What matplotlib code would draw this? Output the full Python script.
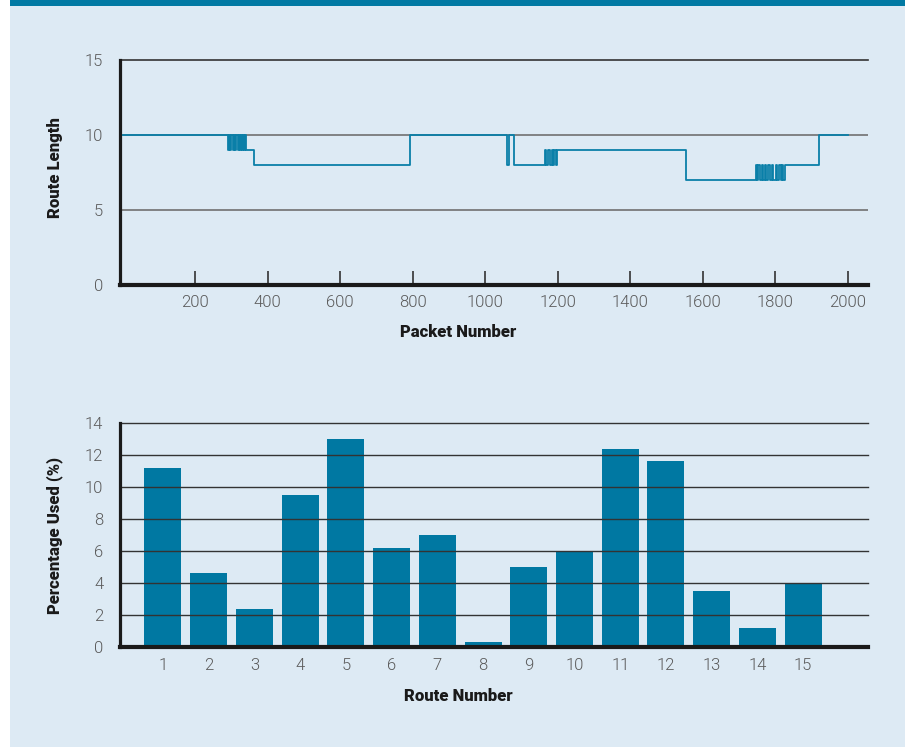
import matplotlib
matplotlib.use("Agg")
import matplotlib.pyplot as plt
from matplotlib.patches import Rectangle

# Route length over packet sequence: packet number at which each route starts, and its length
change_packets = [1,
                  291, 293, 297, 300, 304, 306, 310, 313, 317, 320, 323, 326, 329, 332, 335, 338, 341,
                  362, 793, 1061, 1064, 1080,
                  1165, 1168, 1174, 1177, 1183, 1186, 1190, 1194, 1197,
                  1553,
                  1745, 1748, 1753, 1757, 1762, 1766, 1771, 1775, 1780, 1784, 1789, 1793,
                  1801, 1805, 1810, 1814, 1819, 1822, 1826,
                  1919, 2000]
route_lengths = [10,
                 9, 10, 9, 10, 9, 10, 9, 10, 9, 10, 9, 10, 9, 10, 9, 10, 9,
                 8, 10, 8, 10, 8,
                 9, 8, 9, 8, 9, 8, 9, 8, 9,
                 7,
                 8, 7, 8, 7, 8, 7, 8, 7, 8, 7, 8, 7,
                 8, 7, 8, 7, 8, 7, 8,
                 10, 10]

# Share of packets per route
route_numbers = list(range(1, 16))
percent_used = [11.2, 4.6, 2.4, 9.5, 13.0, 6.2, 7.0, 0.3, 5.0, 6.0, 12.4, 11.6, 3.5, 1.2, 4.0]

top_yticks = [0, 5, 10, 15]
top_xticks = [200, 400, 600, 800, 1000, 1200, 1400, 1600, 1800, 2000]
bar_yticks = [0, 2, 4, 6, 8, 10, 12, 14]

W, H = 905, 747
BG = "#ddeaf4"
TEAL = "#0079a3"
TICK_COLOR = "#5a5a5a"

plt.rcParams['font.family'] = ['Roboto', 'DejaVu Sans']

fig = plt.figure(figsize=(W / 100, H / 100), dpi=100, facecolor="white")
fig.patches.append(Rectangle((10 / W, 0), 1 - 10 / W, 1 - 6 / H, transform=fig.transFigure,
                             facecolor=BG, edgecolor="none", zorder=-10))
fig.patches.append(Rectangle((10 / W, 1 - 6 / H), 1 - 10 / W, 6 / H, transform=fig.transFigure,
                             facecolor=TEAL, edgecolor="none", zorder=-10))


def px_rect(left, top, right, bottom):
    return [left / W, 1 - bottom / H, (right - left) / W, (bottom - top) / H]


def style_axes(ax):
    ax.set_facecolor("none")
    for side in ("top", "right"):
        ax.spines[side].set_visible(False)
    ax.spines["left"].set_linewidth(2.3)
    ax.spines["bottom"].set_linewidth(3.0)
    ax.spines["left"].set_color("#1a1a1a")
    ax.spines["bottom"].set_color("#1a1a1a")
    ax.tick_params(axis="y", length=0, pad=12, labelsize=12, labelcolor=TICK_COLOR)
    for lbl in ax.get_yticklabels() + ax.get_xticklabels():
        lbl.set_fontweight(300)


def axis_label(x, y, text, rotation=0):
    fig.text(x / W, 1 - y / H, text, rotation=rotation, ha="center", va="center",
             fontsize=12, fontweight="heavy", color="#1a1a1a")


# Top panel: route length per packet
ax1 = fig.add_axes(px_rect(120, 60, 868, 285))
ax1.set_xlim(-7, 2055)
ax1.set_ylim(0, 15)
ax1.set_yticks(top_yticks)
ax1.set_xticks(top_xticks)
style_axes(ax1)
ax1.tick_params(axis="x", direction="in", length=10, width=1.2, color="#333333",
                pad=7, labelsize=12, labelcolor=TICK_COLOR)
for yv in (5, 10):
    ax1.axhline(yv, color="#707070", lw=1.2, zorder=1)
ax1.axhline(15, color="#333333", lw=1.2, zorder=1, clip_on=False)
ax1.step(change_packets, route_lengths, where="post", color="#0a7fa8", lw=1.3, zorder=3)

axis_label(55, 168, "Route Length", rotation=90)
axis_label(458, 332, "Packet Number")

# Bottom panel: percentage of use per route
ax2 = fig.add_axes(px_rect(120, 423, 868, 647))
ax2.set_xlim(0.06, 16.42)
ax2.set_ylim(0, 14)
ax2.set_yticks(bar_yticks)
ax2.set_xticks(route_numbers)
style_axes(ax2)
ax2.tick_params(axis="x", length=0, pad=8, labelsize=12, labelcolor=TICK_COLOR)
ax2.bar(route_numbers, percent_used, width=0.81, color="#0078a2", zorder=1)
for yv in bar_yticks[1:]:
    ax2.axhline(yv, color="#333333", lw=1.0, zorder=2, clip_on=False)

axis_label(55, 535, "Percentage Used (%)", rotation=90)
axis_label(458, 696, "Route Number")

fig.savefig("out.png", dpi=100, facecolor=fig.get_facecolor())
